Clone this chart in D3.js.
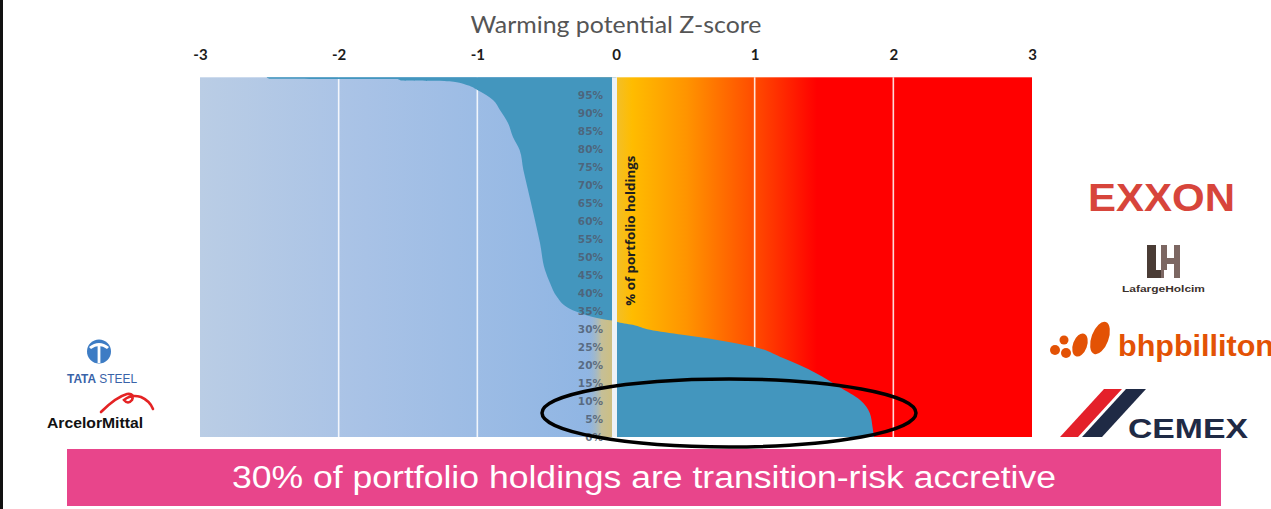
<!DOCTYPE html>
<html><head><meta charset="utf-8">
<script src="https://cdn.jsdelivr.net/npm/d3@7"></script>
<style>html,body{margin:0;padding:0;background:#fff;overflow:hidden}</style>
</head><body>
<svg id="c" width="1271" height="509"></svg>
<script>
// ---------- data ----------
const zTicks = [-3, -2, -1, 0, 1, 2, 3];
const gridZ = [-2, -1, 1, 2];
const pctTicks = [0, 5, 10, 15, 20, 25, 30, 35, 40, 45, 50, 55, 60, 65, 70, 75, 80, 85, 90, 95];
// sorted holdings: cumulative % of portfolio (descending) and warming-potential z-score
const percentile = [100, 99.6, 99.5, 99.1, 98.9, 97.8, 96.5, 93.7, 90.9, 87.3, 83.4, 79.8, 74.2, 69.6, 61.2, 53.9, 46.4, 42.8, 38.9, 36.1, 34.5, 33.1, 32.5, 32.2, 32.0, 31.2, 29.8, 28.4, 27.0, 25.1, 22.0, 17.8, 13.9, 10.3, 6.7, 2.8, 0];
const zscore     = [-2.52, -2.50, -1.58, -1.55, -1.20, -1.07, -1.00, -0.887, -0.837, -0.779, -0.743, -0.695, -0.668, -0.640, -0.590, -0.548, -0.512, -0.476, -0.425, -0.353, -0.260, -0.137, -0.058, 0, 0.01, 0.12, 0.245, 0.48, 0.73, 0.99, 1.20, 1.44, 1.61, 1.76, 1.83, 1.85, 1.86];
const axisTitle = "Warming potential Z-score";
const sideLabel = "% of portfolio holdings";
const bannerText = "30% of portfolio holdings are transition-risk accretive";
const leftLogos = ["TATA", " STEEL", "ArcelorMittal"];
const rightLogos = ["EXXON", "LafargeHolcim", "bhpbilliton", "CEMEX"];

// ---------- setup ----------
const svg = d3.select("#c");
const x = d3.scaleLinear().domain([-3, 3]).range([200, 1032]);
const y = d3.scaleLinear().domain([0, 100]).range([437, 77.3]);
const defs = svg.append("defs");

// left border line
svg.append("rect").attr("x", 0).attr("y", 0).attr("width", 3).attr("height", 509).attr("fill", "#111");

// gradients
const gL = defs.append("linearGradient").attr("id", "gL").attr("gradientUnits", "userSpaceOnUse")
  .attr("x1", x(-3)).attr("x2", x(0)).attr("y1", 0).attr("y2", 0);
gL.append("stop").attr("offset", 0).attr("stop-color", "#bacde5");
gL.append("stop").attr("offset", 0.4).attr("stop-color", "#a8c2e6");
gL.append("stop").attr("offset", 1).attr("stop-color", "#8db4e3");

const gT = defs.append("linearGradient").attr("id", "gT").attr("gradientUnits", "userSpaceOnUse")
  .attr("x1", x(0) - 30).attr("x2", x(0) - 4).attr("y1", 0).attr("y2", 0);
gT.append("stop").attr("offset", 0).attr("stop-color", "#8db4e3").attr("stop-opacity", 0);
gT.append("stop").attr("offset", 0.6).attr("stop-color", "#c5bf98");
gT.append("stop").attr("offset", 1).attr("stop-color", "#cdbf82");

const gR = defs.append("linearGradient").attr("id", "gR").attr("gradientUnits", "userSpaceOnUse")
  .attr("x1", x(0)).attr("x2", x(1.45)).attr("y1", 0).attr("y2", 0);
gR.append("stop").attr("offset", 0).attr("stop-color", "#f2bf2a");
gR.append("stop").attr("offset", 0.08).attr("stop-color", "#ffbc00");
gR.append("stop").attr("offset", 0.35).attr("stop-color", "#ff9400");
gR.append("stop").attr("offset", 0.66).attr("stop-color", "#ff5200");
gR.append("stop").attr("offset", 1).attr("stop-color", "#ff0000");

// backgrounds
svg.append("rect").attr("x", x(-3)).attr("y", y(100)).attr("width", x(0) - x(-3)).attr("height", y(0) - y(100)).attr("fill", "url(#gL)");
svg.append("rect").attr("x", x(0) - 30).attr("y", y(100)).attr("width", 30).attr("height", y(0) - y(100)).attr("fill", "url(#gT)");
svg.append("rect").attr("x", x(0)).attr("y", y(100)).attr("width", x(3) - x(0)).attr("height", y(0) - y(100)).attr("fill", "url(#gR)");

// grid lines
svg.selectAll("line.grid").data(gridZ).join("line").attr("class", "grid")
  .attr("x1", d => x(d)).attr("x2", d => x(d)).attr("y1", y(100)).attr("y2", y(0))
  .attr("stroke", "#ffffff").attr("stroke-opacity", 0.85).attr("stroke-width", 1.6);

// distribution area
const data = percentile.map((p, i) => ({ p, z: zscore[i] }));
const area = d3.area().curve(d3.curveMonotoneY)
  .y(d => y(d.p)).x0(x(0)).x1(d => x(d.z));
svg.append("path").datum(data).attr("d", area).attr("fill", "#4396be");

// zero line
svg.append("rect").attr("x", x(0) - 4).attr("y", y(100)).attr("width", 5).attr("height", y(0) - y(100)).attr("fill", "#eef2f6");

// top axis
const ax = svg.append("g").attr("transform", "translate(0,60)")
  .call(d3.axisTop(x).tickValues(zTicks).tickSize(0).tickPadding(0).tickFormat(d => String(d)));
ax.select(".domain").remove();
ax.selectAll("text").attr("font-family", "Lato, 'Open Sans', sans-serif").attr("font-size", 15)
  .attr("font-weight", "bold").attr("fill", "#1c1c1c").attr("dy", 0);

svg.append("text").attr("x", x(0)).attr("y", 33).attr("text-anchor", "middle")
  .attr("font-family", "Lato, 'Open Sans', sans-serif").attr("font-size", 24).attr("fill", "#555555")
  .attr("textLength", 291).attr("lengthAdjust", "spacingAndGlyphs").text(axisTitle);

// percentage axis
const ay = svg.append("g").attr("transform", "translate(603,0)")
  .call(d3.axisLeft(y).tickValues(pctTicks).tickSize(0).tickPadding(0).tickFormat(d => d + "%"));
ay.select(".domain").remove();
ay.selectAll("text").attr("font-family", "'DejaVu Sans', sans-serif").attr("font-size", 10.5)
  .attr("font-weight", "bold").attr("fill", "#4f5d70").attr("fill-opacity", 0.85);

// rotated side label
svg.append("text").attr("transform", `translate(635,${y(36.5)}) rotate(-90)`)
  .attr("font-family", "'Open Sans', sans-serif").attr("font-size", 11.5).attr("font-weight", "bold")
  .attr("fill", "#1f1f1f").attr("textLength", 150).attr("lengthAdjust", "spacingAndGlyphs").text(sideLabel);

// ellipse highlight
svg.append("ellipse").attr("cx", 729).attr("cy", 413).attr("rx", 187).attr("ry", 34)
  .attr("fill", "none").attr("stroke", "#000").attr("stroke-width", 3.5);

// ---------- logos (approximations) ----------
// Tata Steel
svg.append("circle").attr("cx", 99).attr("cy", 351.5).attr("r", 12).attr("fill", "#3d7cc4");
svg.append("path").attr("d", "M89,347 Q99,339 109,347 L107,349 Q99,343 91,349 Z").attr("fill", "#fff");
svg.append("rect").attr("x", 97.6).attr("y", 345).attr("width", 2.8).attr("height", 18).attr("fill", "#fff");
const tt = svg.append("text").attr("x", 67).attr("y", 383).attr("font-family", "'Liberation Sans', Arial, sans-serif")
  .attr("font-size", 13).attr("fill", "#3a63a8").attr("textLength", 70).attr("lengthAdjust", "spacingAndGlyphs");
tt.append("tspan").attr("font-weight", "bold").text(leftLogos[0]);
tt.append("tspan").text(leftLogos[1]);
// ArcelorMittal
svg.append("path").attr("d", "M101,412 Q116,397 127,394 Q135,393 132,400 Q128,405 124,400 Q131,394 141,397 Q150,401 153,409")
  .attr("fill", "none").attr("stroke", "#e42324").attr("stroke-width", 2.6).attr("stroke-linecap", "round");
svg.append("text").attr("x", 47).attr("y", 428).attr("font-family", "'Liberation Sans', Arial, sans-serif")
  .attr("font-size", 15).attr("font-weight", "bold").attr("fill", "#111").attr("textLength", 96)
  .attr("lengthAdjust", "spacingAndGlyphs").text(leftLogos[2]);

// Exxon
svg.append("text").attr("x", 1088).attr("y", 211).attr("font-family", "'Liberation Sans', Arial, sans-serif")
  .attr("font-size", 39).attr("font-weight", "bold").attr("fill", "#d7453b").attr("textLength", 147)
  .attr("lengthAdjust", "spacingAndGlyphs").text(rightLogos[0]);
// LafargeHolcim
svg.append("path").attr("d", "M1147,245 L1156,245 L1156,270 L1164,270 L1164,278 L1147,278 Z").attr("fill", "#4a3c35");
svg.append("path").attr("d", "M1161,245 L1167,245 L1167,258 L1174,258 L1174,245 L1180,245 L1180,278 L1174,278 L1174,264 L1167,264 L1167,270 L1164,270 L1164,278 L1161,278 Z").attr("fill", "#7c6762");
svg.append("text").attr("x", 1122).attr("y", 292).attr("font-family", "'Liberation Sans', Arial, sans-serif")
  .attr("font-size", 9).attr("font-weight", "bold").attr("fill", "#3b312c").attr("textLength", 83)
  .attr("lengthAdjust", "spacingAndGlyphs").text(rightLogos[1]);
// BHP Billiton
const bhp = svg.append("g").attr("fill", "#e35205");
bhp.append("circle").attr("cx", 1055).attr("cy", 350).attr("r", 5);
bhp.append("circle").attr("cx", 1064).attr("cy", 340).attr("r", 4.5);
bhp.append("circle").attr("cx", 1066).attr("cy", 353).attr("r", 5);
bhp.append("ellipse").attr("cx", 1080).attr("cy", 345).attr("rx", 7).attr("ry", 12).attr("transform", "rotate(20,1080,345)");
bhp.append("ellipse").attr("cx", 1100).attr("cy", 338).attr("rx", 8.5).attr("ry", 17).attr("transform", "rotate(20,1100,338)");
svg.append("text").attr("x", 1118).attr("y", 356).attr("font-family", "'Liberation Sans', Arial, sans-serif")
  .attr("font-size", 30).attr("font-weight", "bold").attr("fill", "#e35205").attr("textLength", 156)
  .attr("lengthAdjust", "spacingAndGlyphs").text(rightLogos[2]);
// Cemex
svg.append("path").attr("d", "M1104,389 L1122,389 L1078,437 L1060,437 Z").attr("fill", "#e4202a");
svg.append("path").attr("d", "M1126,389 L1146,389 L1102,437 L1082,437 Z").attr("fill", "#1f2a45");
svg.append("text").attr("x", 1128).attr("y", 438).attr("font-family", "'Liberation Sans', Arial, sans-serif")
  .attr("font-size", 27).attr("font-weight", "bold").attr("fill", "#1f2a45").attr("textLength", 120)
  .attr("lengthAdjust", "spacingAndGlyphs").text(rightLogos[3]);

// ---------- banner ----------
svg.append("rect").attr("x", 67).attr("y", 449).attr("width", 1154).attr("height", 57).attr("fill", "#e8458b");
svg.append("text").attr("x", 644).attr("y", 488).attr("text-anchor", "middle")
  .attr("font-family", "'Liberation Sans', Arial, sans-serif").attr("font-size", 31).attr("fill", "#ffffff")
  .attr("textLength", 824).attr("lengthAdjust", "spacingAndGlyphs").text(bannerText);
</script>
</body></html>
